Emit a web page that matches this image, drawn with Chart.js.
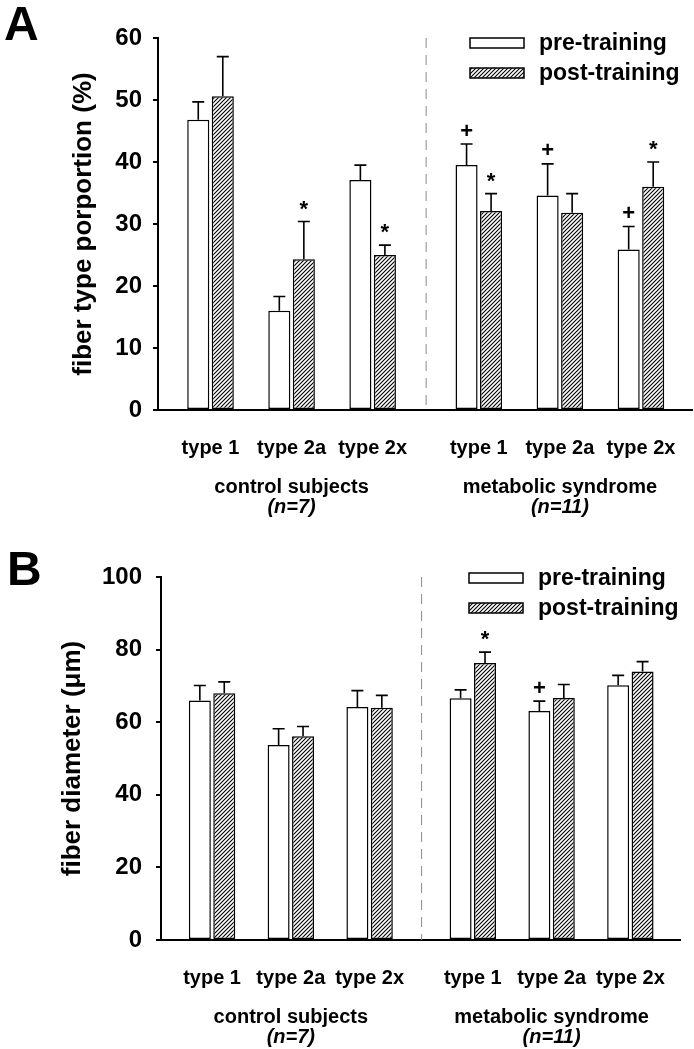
<!DOCTYPE html>
<html>
<head>
<meta charset="utf-8">
<script src="https://cdn.jsdelivr.net/npm/chart.js@4.4.1/dist/chart.umd.min.js"></script>
<style>
  html, body { margin: 0; padding: 0; background: #fff; }
  #wrapA { position: absolute; left: 0; top: 0; width: 694px; height: 520px; }
  #wrapB { position: absolute; left: 0; top: 520px; width: 694px; height: 529px; }
</style>
</head>
<body>
<div id="wrapA"><canvas id="chartA"></canvas></div>
<div id="wrapB"><canvas id="chartB"></canvas></div>
<script>
// categories (x positions leave a wider gap between the two subject groups)
const fiberTypes = ['type 1', 'type 2a', 'type 2x', 'type 1', 'type 2a', 'type 2x'];
const fiberPos = [1, 2, 3, 4.31, 5.31, 6.31];
const groupNames = ['control subjects', 'metabolic syndrome'];
const groupNs = ['(n=7)', '(n=11)'];
const groupOf = [0, 0, 0, 1, 1, 1];
const seriesNames = ['pre-training', 'post-training'];

// A - fiber type proportion (%)
const propPre = [46.8, 16.0, 37.1, 39.5, 34.6, 25.9];
const propPreErr = [2.9, 2.3, 2.4, 3.4, 5.1, 3.7];
const propPost = [50.6, 24.3, 25.0, 32.1, 31.8, 36.0];
const propPostErr = [6.4, 6.1, 1.6, 2.8, 3.1, 4.0];
const propPreMarks = ['', '', '', '+', '+', '+'];
const propPostMarks = ['', '*', '*', '*', '', '*'];

// B - fiber diameter (um)
const diamPre = [66.0, 53.7, 64.2, 66.6, 63.1, 70.2];
const diamPreErr = [4.1, 4.5, 4.5, 2.3, 2.7, 2.7];
const diamPost = [68.0, 56.1, 64.0, 76.3, 66.7, 74.0];
const diamPostErr = [3.1, 2.7, 3.4, 3.0, 3.7, 2.7];
const diamPreMarks = ['', '', '', '', '+', ''];
const diamPostMarks = ['', '', '', '*', '', ''];

const FONT = '"Liberation Sans", Arial, sans-serif';

// hatch pattern for post-training bars
function makeHatch() {
    const c = document.createElement('canvas');
    c.width = 4; c.height = 4;
    const g = c.getContext('2d');
    g.fillStyle = '#fff';
    g.fillRect(0, 0, 4, 4);
    g.strokeStyle = '#000';
    g.lineWidth = 1.1;
    g.beginPath();
    g.moveTo(-1, 5); g.lineTo(5, -1);
    g.moveTo(-1, 1); g.lineTo(1, -1);
    g.moveTo(3, 5); g.lineTo(5, 3);
    g.stroke();
    return g.createPattern(c, 'repeat');
}
const hatch = makeHatch();

// error bars, significance marks, legend, group labels, panel letter
const extras = {
    id: 'extras',
    beforeDatasetsDraw(chart, args, o) {
        const { ctx, chartArea, scales } = chart;
        const x = scales.x.getPixelForValue(o.divider);
        ctx.save();
        ctx.strokeStyle = '#8a8a8a';
        ctx.lineWidth = 1;
        ctx.setLineDash([10, 7]);
        ctx.beginPath();
        ctx.moveTo(x, chartArea.top);
        ctx.lineTo(x, chartArea.bottom);
        ctx.stroke();
        ctx.restore();
    },
    afterDatasetsDraw(chart) {
        const { ctx, scales } = chart;
        ctx.save();
        chart.data.datasets.forEach((ds, di) => {
            const meta = chart.getDatasetMeta(di);
            meta.data.forEach((bar, i) => {
                const yTop = scales.y.getPixelForValue(ds.data[i].y + ds.errors[i]);
                ctx.strokeStyle = '#000';
                ctx.lineWidth = 1.6;
                ctx.beginPath();
                ctx.moveTo(bar.x, bar.y);
                ctx.lineTo(bar.x, yTop);
                ctx.moveTo(bar.x - 6, yTop);
                ctx.lineTo(bar.x + 6, yTop);
                ctx.stroke();
                const m = ds.marks[i];
                if (m) {
                    ctx.fillStyle = '#000';
                    ctx.font = 'bold 22px ' + FONT;
                    ctx.textAlign = 'center';
                    ctx.textBaseline = 'alphabetic';
                    const base = m === '*' ? yTop - 18 + 0.56 * 22 : yTop - 13 + 0.3 * 22;
                    ctx.fillText(m, bar.x, base);
                }
            });
        });
        ctx.restore();
    },
    afterDraw(chart, args, o) {
        const { ctx, chartArea, scales } = chart;
        ctx.save();
        // legend
        chart.data.datasets.forEach((ds, k) => {
            const bx = o.legendX, by = o.legendY + k * 30;
            ctx.fillStyle = ds.backgroundColor;
            ctx.fillRect(bx, by, 54, 10);
            ctx.strokeStyle = '#000';
            ctx.lineWidth = 1.5;
            ctx.strokeRect(bx, by, 54, 10);
            ctx.fillStyle = '#000';
            ctx.font = 'bold 23px ' + FONT;
            ctx.textAlign = 'left';
            ctx.textBaseline = 'middle';
            ctx.fillText(ds.label, bx + 69, by + 6);
        });
        // group labels under the tick labels
        ctx.textAlign = 'center';
        ctx.textBaseline = 'middle';
        groupNames.forEach((name, g) => {
            const xs = fiberPos.filter((p, i) => groupOf[i] === g).map(p => scales.x.getPixelForValue(p));
            const cx = xs.reduce((a, b) => a + b, 0) / xs.length;
            ctx.font = 'bold 20px ' + FONT;
            ctx.fillText(name, cx, chartArea.bottom + 77);
            ctx.font = 'italic bold 20px ' + FONT;
            ctx.fillText(groupNs[g], cx, chartArea.bottom + 97);
        });
        // panel letter
        ctx.font = 'bold 48px ' + FONT;
        ctx.textAlign = 'left';
        ctx.textBaseline = 'alphabetic';
        ctx.fillText(o.letter, o.letterX, o.letterY);
        ctx.restore();
    }
};

function drawPanel(id, cfg) {
    const ctx = document.getElementById(id).getContext('2d');
    return new Chart(ctx, {
        type: 'bar',
        data: {
            datasets: [{
                label: seriesNames[0],
                data: fiberPos.map((p, i) => ({ x: p, y: cfg.pre[i] })),
                errors: cfg.preErr,
                marks: cfg.preMarks,
                backgroundColor: '#fff',
                borderColor: '#000',
                borderWidth: 1.5,
                borderSkipped: false
            }, {
                label: seriesNames[1],
                data: fiberPos.map((p, i) => ({ x: p, y: cfg.post[i] })),
                errors: cfg.postErr,
                marks: cfg.postMarks,
                backgroundColor: hatch,
                borderColor: '#000',
                borderWidth: 1.5,
                borderSkipped: false
            }]
        },
        options: {
            responsive: true,
            maintainAspectRatio: false,
            animation: false,
            categoryPercentage: cfg.catPct,
            barPercentage: 0.9,
            layout: { padding: { top: cfg.padTop, right: cfg.padRight, left: 0, bottom: 0 } },
            scales: {
                x: {
                    type: 'linear',
                    offset: false,
                    min: 0.352,
                    max: 6.94,
                    afterBuildTicks: axis => { axis.ticks = fiberPos.map(v => ({ value: v })); },
                    afterFit: s => { s.height = cfg.xHeight; },
                    grid: { display: false },
                    border: { display: true, color: '#000', width: 2 },
                    ticks: {
                        autoSkip: false,
                        maxRotation: 0,
                        padding: 18,
                        color: '#000',
                        font: { family: FONT, size: 20, weight: 'bold' },
                        callback: (v, i) => fiberTypes[i]
                    }
                },
                y: {
                    min: 0,
                    max: cfg.yMax,
                    afterFit: s => { s.width = cfg.yWidth; },
                    grid: { drawOnChartArea: false, drawTicks: true, tickLength: 5, color: '#000', lineWidth: 2 },
                    border: { display: true, color: '#000', width: 2 },
                    ticks: {
                        stepSize: cfg.yStep,
                        padding: cfg.yTickPad,
                        color: '#000',
                        font: { family: FONT, size: 24, weight: 'bold' }
                    },
                    title: {
                        display: true,
                        text: cfg.yTitle,
                        color: '#000',
                        padding: { top: cfg.titlePad, bottom: 0 },
                        font: { family: FONT, size: 26, weight: 'bold' }
                    }
                }
            },
            plugins: {
                legend: { display: false },
                tooltip: { enabled: false },
                extras: {
                    divider: 3.66,
                    legendX: cfg.legendX,
                    legendY: cfg.legendY,
                    letter: cfg.letter,
                    letterX: cfg.letterX,
                    letterY: cfg.letterY
                }
            }
        },
        plugins: [extras]
    });
}

drawPanel('chartA', {
    pre: propPre, preErr: propPreErr, preMarks: propPreMarks,
    post: propPost, postErr: propPostErr, postMarks: propPostMarks,
    yMax: 60, yStep: 10, yTitle: 'fiber type porportion (%)',
    catPct: 0.605, padTop: 38, padRight: 2, xHeight: 110, yWidth: 158,
    yTickPad: 11, titlePad: 68,
    legendX: 470, legendY: 38,
    letter: 'A', letterX: 4, letterY: 40
});

drawPanel('chartB', {
    pre: diamPre, preErr: diamPreErr, preMarks: diamPreMarks,
    post: diamPost, postErr: diamPostErr, postMarks: diamPostMarks,
    yMax: 100, yStep: 20, yTitle: 'fiber diameter (\u03bcm)',
    catPct: 0.62, padTop: 57, padRight: 14, xHeight: 109, yWidth: 161,
    yTickPad: 14, titlePad: 57,
    legendX: 469, legendY: 53,
    letter: 'B', letterX: 7, letterY: 65
});
</script>
</body>
</html>
